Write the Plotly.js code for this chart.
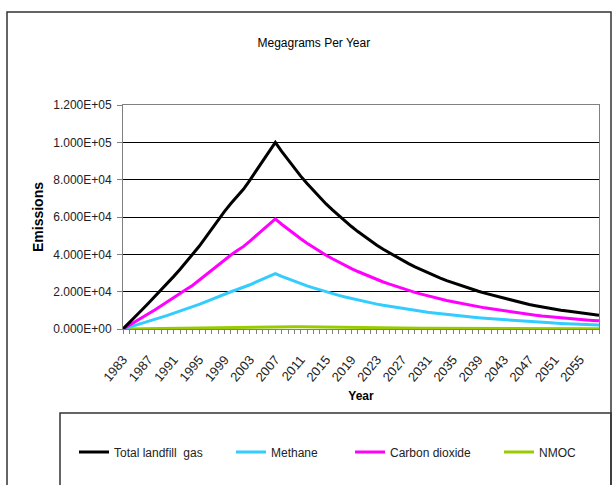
<!DOCTYPE html>
<html>
<head>
<meta charset="utf-8">
<script src="https://cdn.plot.ly/plotly-3.0.1.min.js"></script>
<style>
html,body{margin:0;padding:0;background:#fff;}
#chart{width:613px;height:485px;}
</style>
</head>
<body>
<div id="chart"></div>
<script>
// Categories: years 1983..2058
var years = [];
for (var yr = 1983; yr <= 2058; yr++) years.push(yr);

var xLabelYears = [1983,1987,1991,1995,1999,2003,2007,2011,2015,2019,2023,2027,2031,2035,2039,2043,2047,2051,2055];

var yTickVals = [0, 20000, 40000, 60000, 80000, 100000, 120000];
var yTickText = ["0.000E+00","2.000E+04","4.000E+04","6.000E+04","8.000E+04","1.000E+05","1.200E+05"];

var totalGas = [
  0,3300,6800,10300,13800,17300,20900,24500,28200,32000,
  36000,39800,44300,49000,53800,58600,63000,67200,71200,75000,
  79800,85000,90000,95000,100000,
  95100,90500,86100,81900,77900,74100,70500,67000,63800,60700,
  57700,54900,52200,49700,47200,44900,42700,40700,38700,36800,
  35000,33300,31700,30100,28700,27300,25900,24700,23500,22300,
  21200,20200,19200,18300,17400,16500,15700,14700,13900,13100,
  12500,11800,11200,10600,10100,9600,9100,8600,8200,7800,7400
];
var methane = [
  0,980,2020,3060,4100,5140,6210,7280,8380,9500,
  10690,11820,13160,14550,15980,17400,18710,19960,21150,22280,
  23700,25250,26730,28220,29700,
  28240,26880,25570,24320,23140,22010,20940,19900,18950,18030,
  17140,16310,15500,14760,14020,13340,12680,12090,11490,10930,
  10400,9890,9410,8940,8520,8110,7690,7340,6980,6620,
  6300,6000,5700,5440,5170,4900,4660,4370,4130,3890,
  3710,3500,3330,3150,3000,2850,2700,2550,2440,2320,2200
];
var carbonDioxide = [
  0,1950,4010,6080,8140,10210,12330,14460,16640,18880,
  21240,23480,26140,28910,31740,34570,37170,39650,42010,44250,
  47080,50150,53100,56050,59000,
  56110,53400,50800,48320,45960,43720,41600,39530,37640,35810,
  34040,32390,30800,29320,27850,26490,25190,24010,22830,21710,
  20650,19650,18700,17760,16930,16110,15280,14570,13870,13160,
  12510,11920,11330,10800,10270,9740,9260,8670,8200,7730,
  7380,6960,6610,6250,5960,5660,5370,5070,4840,4600,4370
];
var nmoc = [
  0,50,100,150,200,250,300,350,410,460,
  520,580,650,710,790,860,920,980,1040,1090,
  1160,1230,1310,1380,1450,
  1380,1310,1250,1190,1130,1070,1020,970,930,880,
  840,800,760,720,690,650,620,590,560,530,
  510,480,460,440,420,400,380,360,340,320,
  310,290,280,270,250,240,230,210,200,190,
  180,170,160,150,150,140,130,120,120,110,110
];

var seriesNames = ["Total landfill  gas", "Methane", "Carbon dioxide", "NMOC"];
var seriesColors = ["#000000", "#33CCFF", "#FF00FF", "#99CC00"];
var seriesData = [totalGas, methane, carbonDioxide, nmoc];
var legendIds = ["legend", "legend2", "legend3", "legend4"];

var traces = [];
for (var i = 0; i < seriesData.length; i++) {
  traces.push({
    x: years, y: seriesData[i], type: "scatter", mode: "lines",
    name: seriesNames[i], legend: legendIds[i], showlegend: true,
    line: {color: seriesColors[i], width: 3}
  });
}
// draw order: NMOC at bottom, total on top
traces = [traces[3], traces[1], traces[2], traces[0]];

var tickVals = years.slice();
var tickText = years.map(function(y){ return xLabelYears.indexOf(y) >= 0 ? String(y) : ""; });

var W = 613, H = 485;
function lg(px, py) {
  return {visible: true, x: px / W, y: 1 - py / H, xref: "container", yref: "container",
    xanchor: "left", yanchor: "middle", orientation: "h",
    bgcolor: "rgba(0,0,0,0)", borderwidth: 0,
    font: {family: "Liberation Sans, Arial, sans-serif", size: 12, color: "#222"}};
}

var layout = {
  width: W, height: H,
  showlegend: true,
  margin: {l: 123, r: 14, t: 105, b: 156},
  paper_bgcolor: "#fff", plot_bgcolor: "#fff",
  font: {family: "Liberation Sans, Arial, sans-serif", size: 12, color: "#222"},
  title: {text: "Megagrams Per Year", xref: "container", yref: "container",
    x: 0.512, y: 1 - 43 / H, xanchor: "center", yanchor: "middle",
    font: {family: "Liberation Sans, Arial, sans-serif", size: 12, color: "#000"}},
  xaxis: {
    range: [1983, 2058], tickmode: "array", tickvals: tickVals, ticktext: tickText,
    tickangle: -50, ticks: "outside", ticklen: 4, tickcolor: "#808080", tickwidth: 1,
    ticklabelstandoff: 13,
    showline: true, linecolor: "#808080", linewidth: 1, mirror: true,
    showgrid: false, zeroline: false,
    tickfont: {size: 13, color: "#222"},
    title: {text: "Year", standoff: 8, font: {size: 12, color: "#000", weight: "bold"}}
  },
  yaxis: {
    range: [0, 120000], tickmode: "array", tickvals: yTickVals, ticktext: yTickText,
    ticks: "outside", ticklen: 5, tickcolor: "#808080",
    ticklabelstandoff: 3,
    showline: true, linecolor: "#808080", linewidth: 1, mirror: true,
    showgrid: true, gridcolor: "#000", gridwidth: 1, zeroline: false,
    tickfont: {size: 12, color: "#222"},
    title: {text: "Emissions", standoff: 6, font: {size: 14, color: "#000", weight: "bold"}}
  },
  legend: lg(74, 452), legend2: lg(231, 452), legend3: lg(350, 452), legend4: lg(499, 452),
  shapes: [
    {type: "rect", xref: "paper", yref: "paper",
      x0: (7 - 123) / 476, x1: (611 - 123) / 476, y0: (329 - 492) / 224, y1: (329 - 12) / 224,
      line: {color: "#333", width: 1.5}, layer: "below"},
    {type: "rect", xref: "paper", yref: "paper",
      x0: (60 - 123) / 476, x1: (611 - 123) / 476, y0: (329 - 492) / 224, y1: (329 - 413) / 224,
      line: {color: "#333", width: 1.5}, layer: "below"}
  ]
};

Plotly.newPlot("chart", traces, layout, {staticPlot: true, displayModeBar: false});
</script>
</body>
</html>
